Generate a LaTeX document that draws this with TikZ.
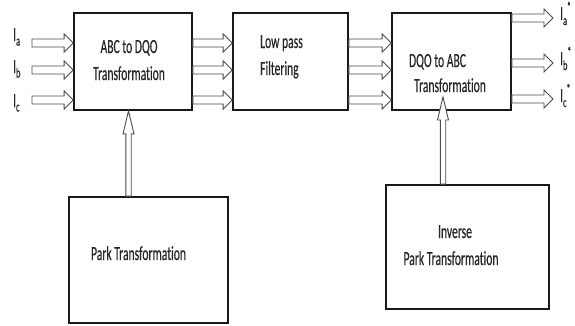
\documentclass[tikz,border=0pt]{standalone}
\usepackage{fontspec}
\setmainfont{Carlito}[FakeStretch=0.58, FakeBold=0.4, Ligatures={NoCommon}]
\usetikzlibrary{calc}
\newcommand\inlab[1]{I\raisebox{-4.5pt}{\fontsize{14}{14}\selectfont #1}}
\newcommand\outlab[1]{I\raisebox{-5pt}{\fontsize{14}{14}\selectfont #1}\raisebox{9pt}{\fontsize{13}{13}\selectfont *}}
\tikzset{
  box/.style={draw=black!90, line width=1.7pt, rectangle, inner sep=0pt},
  txt/.style={inner sep=0pt, text=black!85, font=\fontsize{20}{24}\selectfont},
  lab/.style={inner sep=0pt, anchor=base west, text=black!85, font=\fontsize{20}{24}\selectfont},
  harrow/.style={draw=black!70, line width=0.9pt, fill=white, line join=miter,
    to path={let \p1=(\tikztostart), \p2=(\tikztotarget) in
      (\x1,{\y1+4pt}) -- ({\x2-9pt},{\y1+4pt}) -- ({\x2-9pt},{\y1+9pt}) -- (\x2,\y1)
      -- ({\x2-9pt},{\y1-9pt}) -- ({\x2-9pt},{\y1-4pt}) -- (\x1,{\y1-4pt}) -- cycle}},
  varrow/.style={draw=black!70, line width=0.9pt, fill=white, line join=miter,
    to path={let \p1=(\tikztostart), \p2=(\tikztotarget) in
      ({\x1-2.7pt},\y1) -- ({\x1-2.7pt},{\y2-23pt}) -- ({\x1-5.5pt},{\y2-23pt}) -- (\x1,\y2)
      -- ({\x1+5.5pt},{\y2-23pt}) -- ({\x1+2.7pt},{\y2-23pt}) -- ({\x1+2.7pt},\y1) -- cycle}},
}
\begin{document}
\begin{tikzpicture}[x=1pt,y=-1pt]
\useasboundingbox (0,0) rectangle (575,325);
% boxes
\node[box, minimum width=118pt, minimum height=97pt] (box1) at (133,61.5) {};
\node[box, minimum width=115pt, minimum height=97pt] (box2) at (290.5,61.5) {};
\node[box, minimum width=119pt, minimum height=97pt] (box3) at (451.5,61.5) {};
\node[box, minimum width=159pt, minimum height=126pt] (box4) at (148.5,260) {};
\node[box, minimum width=163pt, minimum height=124pt] (box5) at (467.5,247) {};
% texts
\node[txt, anchor=base] (t1a) at (129,53) {ABC to DQO};
\node[txt, anchor=base] (t1b) at (129,80) {Transformation};
\node[txt, anchor=base west] (t2a) at (260,48) {Low pass};
\node[txt, anchor=base west] (t2b) at (260,75) {Filtering};
\node[txt, anchor=base] (t3a) at (437.5,67) {DQO to ABC};
\node[txt, anchor=base] (t3b) at (450,92) {Transformation};
\node[txt, anchor=base] (t4) at (138.5,260) {Park Transformation};
\node[txt, anchor=base] (t5a) at (455,238) {Inverse};
\node[txt, anchor=base] (t5b) at (451,265) {Park Transformation};
% row coordinates
\coordinate (ra) at (0,43);
\coordinate (rb) at (0,70);
\coordinate (rc) at (0,100);
\coordinate (ia) at (32,43);
\coordinate (ib) at (32,70);
\coordinate (ic) at (32,100);
\coordinate (oa) at (553,18);
\coordinate (ob) at (553,63);
\coordinate (oc) at (553,99);
\coordinate (xa) at (128.5,0);
\coordinate (tip3) at (443,97);
% input labels
\node[lab] (la) at (13,41) {\inlab{a}};
\node[lab] (lb) at (13,73) {\inlab{b}};
\node[lab] (lc) at (13,107) {\inlab{c}};
% output labels
\node[lab] (loa) at (560,20) {\outlab{a}};
\node[lab] (lob) at (560,65) {\outlab{b}};
\node[lab] (loc) at (560,102) {\outlab{c}};
% arrows
\draw[harrow] (ia) to (box1.west |- ra);
\draw[harrow] (ib) to (box1.west |- rb);
\draw[harrow] (ic) to (box1.west |- rc);
\draw[harrow] (box1.east |- ra) to (box2.west |- ra);
\draw[harrow] (box1.east |- rb) to (box2.west |- rb);
\draw[harrow] (box1.east |- rc) to (box2.west |- rc);
\draw[harrow] (box2.east |- ra) to (box3.west |- ra);
\draw[harrow] (box2.east |- rb) to (box3.west |- rb);
\draw[harrow] (box2.east |- rc) to (box3.west |- rc);
\draw[harrow] (box3.east |- oa) to (oa);
\draw[harrow] (box3.east |- ob) to (ob);
\draw[harrow] (box3.east |- oc) to (oc);
\draw[varrow] (box4.north -| xa) to (box1.south -| xa);
\draw[varrow] (box5.north -| tip3) to (tip3);
\end{tikzpicture}
\end{document}
